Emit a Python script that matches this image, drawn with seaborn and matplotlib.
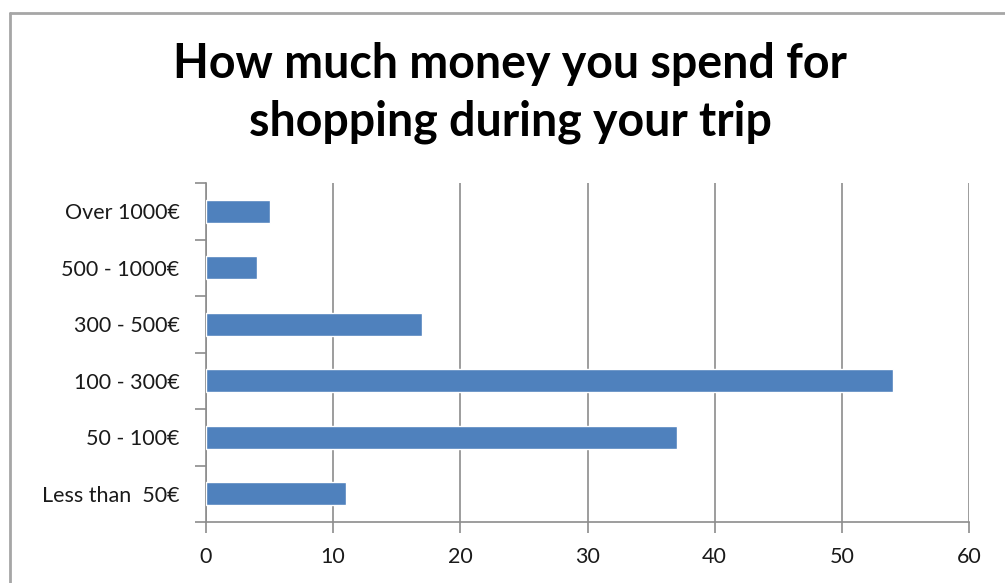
import matplotlib
matplotlib.use("Agg")
import matplotlib.pyplot as plt
import seaborn as sns
import pandas as pd
import numpy as np
from matplotlib.lines import Line2D

categories = ["Over 1000€", "500 - 1000€", "300 - 500€", "100 - 300€", "50 - 100€", "Less than  50€"]
counts = [5, 4, 17, 54, 37, 11]
x_ticks = [0, 10, 20, 30, 40, 50, 60]
title = "How much money you spend for\nshopping during your trip"

sns.set_theme(style="white")
plt.rcParams["font.family"] = ["Lato", "DejaVu Sans"]

df = pd.DataFrame({"category": categories, "count": counts})

fig = plt.figure(figsize=(10.05, 5.83), dpi=100)
ax = fig.add_axes([206 / 1005, 1 - 522 / 583, (969 - 206) / 1005, (522 - 183) / 583])

sns.barplot(data=df, y="category", x="count", order=categories, color="#4F81BD",
            saturation=1, width=0.4, orient="h", ax=ax, zorder=3)

grid_color = "#8C8C8C"
ax.set_xlim(0, 60)
ax.set_ylim(len(categories) - 0.5, -0.5)
ax.set_xticks(x_ticks)
ax.set_xticklabels([str(t) for t in x_ticks], fontsize=15.5, color="#1a1a1a")
ax.xaxis.grid(True, color=grid_color, linewidth=1.2, zorder=0)
ax.yaxis.grid(False)

# category labels at the centres, tick marks at the boundaries
ax.set_yticks(np.arange(len(categories)))
ax.set_yticklabels(categories, fontsize=15.5, color="#1a1a1a")
ax.set_yticks(np.arange(len(categories) + 1) - 0.5, minor=True)
ax.tick_params(axis="y", which="major", length=0, pad=19)
ax.tick_params(axis="y", which="minor", length=8, width=1.2, color=grid_color, left=True)
ax.tick_params(axis="x", which="major", length=8, width=1.2, color=grid_color, bottom=True, pad=10)

ax.set_xlabel("")
ax.set_ylabel("")
for side in ["top", "right"]:
    ax.spines[side].set_visible(False)
for side in ["left", "bottom"]:
    ax.spines[side].set_color(grid_color)
    ax.spines[side].set_linewidth(1.2)

fig.text(510 / 1005, 1 - 93 / 583, title, ha="center", va="center",
         fontsize=33.5, fontweight="bold", color="black", linespacing=1.38)

# chart area border
fig.add_artist(Line2D([9.5 / 1005, 1.0], [1 - 12.5 / 583] * 2, color="#A6A6A6", linewidth=2))
fig.add_artist(Line2D([9.5 / 1005] * 2, [0, 1 - 12.5 / 583], color="#A6A6A6", linewidth=2))

fig.savefig("out.png", dpi=100)
